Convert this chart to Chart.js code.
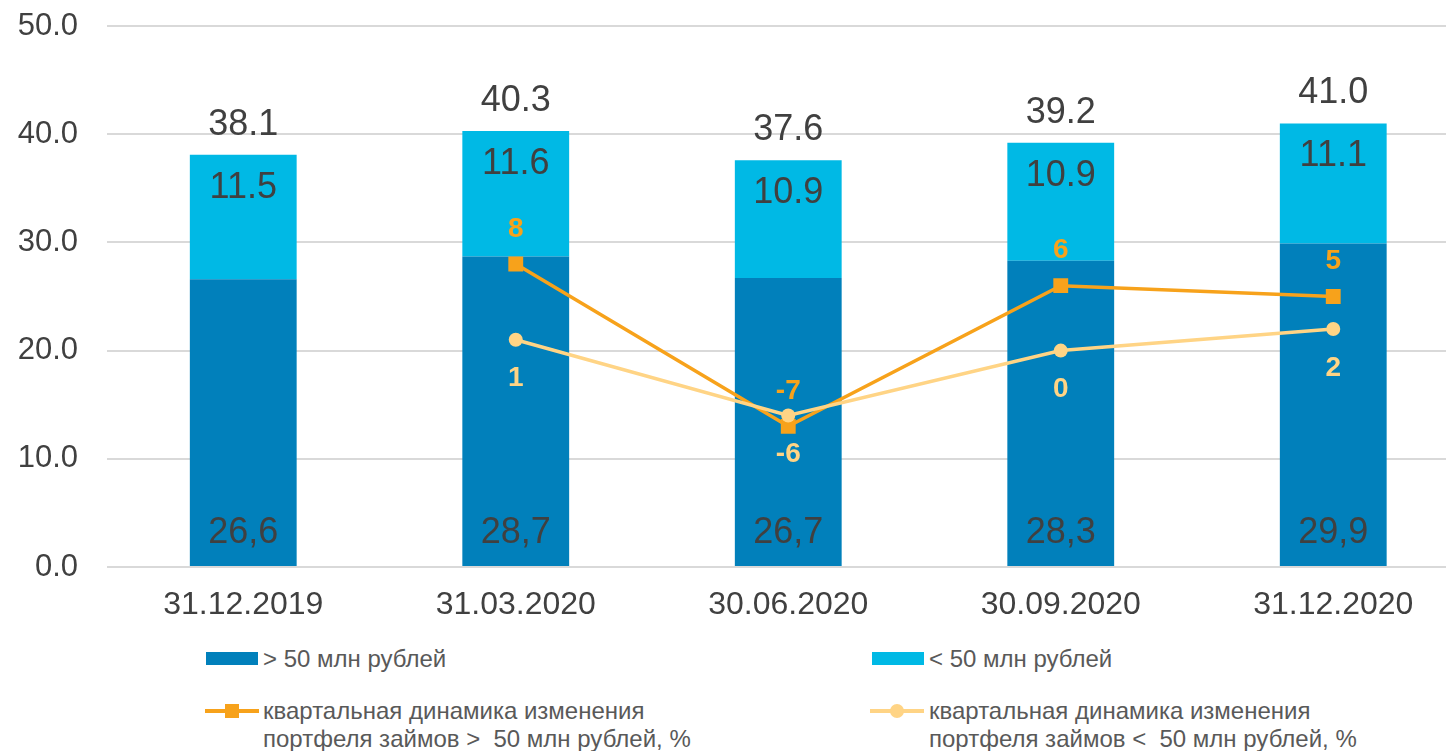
<!DOCTYPE html>
<html>
<head>
<meta charset="utf-8">
<script src="https://cdn.jsdelivr.net/npm/chart.js@4/dist/chart.umd.min.js"></script>
<style>
  html, body { margin: 0; padding: 0; background: #fff; overflow: hidden; width: 1446px; height: 751px; }
  #wrap { position: absolute; left: 0; top: 0; width: 1480px; height: 640px; }
  .lg { position: absolute; font-family: Arial, 'Liberation Sans', sans-serif; font-size: 24px; color: #595959; white-space: pre; }
  .sw { position: absolute; height: 13px; width: 52px; }
  .ln { position: absolute; height: 4px; width: 54px; }
  .mk { position: absolute; }
</style>
</head>
<body>
<div id="wrap"><canvas id="chart" width="1480" height="640"></canvas></div>

<div class="sw" style="left:206px; top:652px; background:#0180BB;"></div>
<div class="lg" style="left:263px; top:645px; line-height:28px;">&gt; 50 млн рублей</div>
<div class="sw" style="left:872px; top:652px; background:#00B9E5;"></div>
<div class="lg" style="left:929px; top:645px; line-height:28px;">&lt; 50 млн рублей</div>

<div class="ln" style="left:205px; top:709px; background:#F7A21B;"></div>
<div class="mk" style="left:225px; top:704px; width:14px; height:14px; background:#F7A21B;"></div>
<div class="lg" style="left:263px; top:697px; line-height:28px;">квартальная динамика изменения
портфеля займов &gt;  50 млн рублей, %</div>
<div class="ln" style="left:870px; top:709px; background:#FFD485;"></div>
<div class="mk" style="left:890px; top:704px; width:14px; height:14px; border-radius:50%; background:#FFD485;"></div>
<div class="lg" style="left:929px; top:697px; line-height:28px;">квартальная динамика изменения
портфеля займов &lt;  50 млн рублей, %</div>

<script>
const CATEGORIES = ['31.12.2019', '31.03.2020', '30.06.2020', '30.09.2020', '31.12.2020'];
const LARGE_LOANS = [26.6, 28.7, 26.7, 28.3, 29.9];   // > 50 млн рублей
const SMALL_LOANS = [11.5, 11.6, 10.9, 10.9, 11.1];   // < 50 млн рублей
const LARGE_CHANGE = [null, 8, -7, 6, 5];              // квартальная динамика, %
const SMALL_CHANGE = [null, 1, -6, 0, 2];
const Y_TICKS = [0, 10, 20, 30, 40, 50];

const DARK_BLUE = '#0180BB';
const LIGHT_BLUE = '#00B9E5';
const ORANGE = '#F7A21B';
const LIGHT_ORANGE = '#FFD485';
const TEXT = '#404040';
const FONT = "Arial, 'Liberation Sans', sans-serif";

const labelsPlugin = {
  id: 'valueLabels',
  afterDatasetsDraw(chart) {
    const { ctx } = chart;
    const metaLarge = chart.getDatasetMeta(0);
    const metaSmall = chart.getDatasetMeta(1);
    const metaLC = chart.getDatasetMeta(2);
    const metaSC = chart.getDatasetMeta(3);
    ctx.save();
    ctx.textAlign = 'center';
    ctx.textBaseline = 'middle';
    ctx.font = `36px ${FONT}`;
    ctx.fillStyle = TEXT;
    metaLarge.data.forEach((bar, i) => {
      ctx.fillText(LARGE_LOANS[i].toFixed(1).replace('.', ','), bar.x, bar.base - 33);
    });
    metaSmall.data.forEach((bar, i) => {
      ctx.fillText(SMALL_LOANS[i].toFixed(1), bar.x, bar.y + 33);
      const total = LARGE_LOANS[i] + SMALL_LOANS[i];
      ctx.fillText(total.toFixed(1), bar.x, bar.y - 30);
    });
    ctx.font = `bold 28px ${FONT}`;
    ctx.fillStyle = ORANGE;
    metaLC.data.forEach((pt, i) => {
      if (LARGE_CHANGE[i] == null) return;
      ctx.fillText(String(LARGE_CHANGE[i]), pt.x, pt.y - 35);
    });
    ctx.fillStyle = LIGHT_ORANGE;
    metaSC.data.forEach((pt, i) => {
      if (SMALL_CHANGE[i] == null) return;
      ctx.fillText(String(SMALL_CHANGE[i]), pt.x, pt.y + 39);
    });
    ctx.restore();
  }
};

new Chart(document.getElementById('chart'), {
  data: {
    labels: CATEGORIES,
    datasets: [
      {
        type: 'bar',
        label: '> 50 млн рублей',
        data: LARGE_LOANS,
        backgroundColor: DARK_BLUE,
        stack: 'loans',
        order: 3
      },
      {
        type: 'bar',
        label: '< 50 млн рублей',
        data: SMALL_LOANS,
        backgroundColor: LIGHT_BLUE,
        stack: 'loans',
        order: 3
      },
      {
        type: 'line',
        label: 'квартальная динамика изменения портфеля займов >  50 млн рублей, %',
        data: LARGE_CHANGE,
        yAxisID: 'y2',
        borderColor: ORANGE,
        backgroundColor: ORANGE,
        borderWidth: 3.5,
        pointStyle: 'rect',
        pointRadius: 10.5,
        pointBorderWidth: 0,
        tension: 0,
        order: 2
      },
      {
        type: 'line',
        label: 'квартальная динамика изменения портфеля займов <  50 млн рублей, %',
        data: SMALL_CHANGE,
        yAxisID: 'y2',
        borderColor: LIGHT_ORANGE,
        backgroundColor: LIGHT_ORANGE,
        borderWidth: 3.5,
        pointStyle: 'circle',
        pointRadius: 7,
        pointBorderWidth: 0,
        tension: 0,
        order: 1
      }
    ]
  },
  options: {
    responsive: false,
    animation: false,
    layout: { padding: { top: 26, right: 9, left: 0, bottom: 0 } },
    datasets: {
      bar: { categoryPercentage: 1, barPercentage: 0.392 }
    },
    scales: {
      x: {
        stacked: true,
        offset: true,
        grid: { display: false, drawTicks: false },
        border: { display: false },
        ticks: { color: TEXT, font: { family: FONT, size: 32 }, padding: 19 },
        afterFit: (scale) => {
          scale.height = 73;
          scale.paddingLeft = 0;
          scale.paddingRight = 0;
        }
      },
      y: {
        stacked: true,
        min: 0,
        max: 50,
        afterBuildTicks: (scale) => { scale.ticks = Y_TICKS.map((v) => ({ value: v })); },
        grid: { color: '#D9D9D9', lineWidth: 2, drawTicks: false },
        border: { display: false },
        ticks: {
          color: TEXT,
          font: { family: FONT, size: 31 },
          padding: 29,
          callback: (v) => Number(v).toFixed(1)
        },
        afterFit: (scale) => {
          scale.width = 107;
          scale.paddingTop = 0;
          scale.paddingBottom = 0;
        }
      },
      y2: {
        display: false,
        min: -20,
        max: 30
      }
    },
    plugins: {
      legend: { display: false },
      tooltip: { enabled: false }
    }
  },
  plugins: [labelsPlugin]
});
</script>
</body>
</html>
